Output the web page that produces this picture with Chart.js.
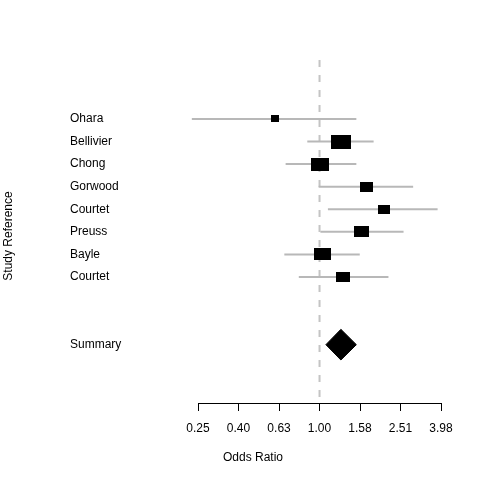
<!DOCTYPE html>
<html>
<head>
<meta charset="utf-8">
<script src="https://cdn.jsdelivr.net/npm/chart.js@4.4.1/dist/chart.umd.min.js"></script>
<style>
  html, body { margin: 0; padding: 0; background: #fff; }
  canvas { display: block; }
</style>
</head>
<body>
<canvas id="forestChart" width="480" height="480"></canvas>
<script>
// Study data: odds ratios with 95% confidence intervals
const studies = ['Ohara', 'Bellivier', 'Chong', 'Gorwood', 'Courtet', 'Preuss', 'Bayle', 'Courtet'];
const oddsRatio = [0.60, 1.27, 1.01, 1.70, 2.07, 1.62, 1.03, 1.31];
const ciLower = [0.234, 0.87, 0.68, 0.99, 1.10, 1.01, 0.67, 0.79];
const ciUpper = [1.52, 1.85, 1.52, 2.90, 3.83, 2.60, 1.58, 2.19];
// relative study weights (box size)
const weights = [0.40, 1.00, 0.90, 0.65, 0.60, 0.75, 0.85, 0.70];

// Summary estimate
const summaryLabel = 'Summary';
const summaryOR = 1.275;
const summaryLower = 1.075;
const summaryUpper = 1.52;

// x axis ticks
const tickValues = [0.251, 0.398, 0.631, 1, 1.585, 2.512, 3.981];
const tickLabels = ['0.25', '0.40', '0.63', '1.00', '1.58', '2.51', '3.98'];

const summaryRow = studies.length + 2;
const rowPositions = studies.map((s, i) => i).concat([summaryRow]);
const rowLabels = studies.concat([summaryLabel]);

Chart.defaults.font.family = '"Liberation Sans", Arial, Helvetica, sans-serif';
Chart.defaults.font.size = 12;
Chart.defaults.color = '#000';

// Black rectangle used as the study marker
function boxImage(w) {
  const c = document.createElement('canvas');
  c.width = Math.round(20 * w);
  c.height = Math.round(12.4 * w + 1.8);
  const g = c.getContext('2d');
  g.fillStyle = '#000';
  g.fillRect(0, 0, c.width, c.height);
  return c;
}

const yMin = -2.215;
const yMax = 12.585;
const diamondHalf = 0.68;

const datasets = [];

// study boxes
datasets.push({
  data: studies.map((s, i) => ({ x: oddsRatio[i], y: i })),
  pointStyle: ctx => boxImage(weights[ctx.dataIndex]),
  pointRadius: 10,
  clip: false
});

// confidence interval lines
studies.forEach((s, i) => {
  datasets.push({
    data: [{ x: ciLower[i], y: i }, { x: ciUpper[i], y: i }],
    showLine: true,
    borderColor: '#b8b8b8',
    borderWidth: 2,
    pointRadius: 0,
    clip: false
  });
});

// summary diamond
datasets.push({
  data: [
    { x: summaryLower, y: summaryRow },
    { x: summaryOR, y: summaryRow - diamondHalf },
    { x: summaryUpper, y: summaryRow },
    { x: summaryOR, y: summaryRow + diamondHalf },
    { x: summaryLower, y: summaryRow }
  ],
  showLine: true,
  borderColor: '#000',
  borderWidth: 1,
  backgroundColor: '#000',
  fill: 'shape',
  pointRadius: 0,
  tension: 0
});

// null effect line at OR = 1
datasets.push({
  data: [{ x: 1, y: yMin - 0.4 }, { x: 1, y: yMax }],
  showLine: true,
  borderColor: '#c4c4c4',
  borderWidth: 2,
  borderDash: [7, 8],
  pointRadius: 0,
  clip: false
});

const xLabelPlugin = {
  id: 'xLabel',
  afterDraw(chart) {
    const ctx = chart.ctx;
    ctx.save();
    ctx.font = '12px "Liberation Sans", Arial, Helvetica, sans-serif';
    ctx.fillStyle = '#000';
    ctx.textAlign = 'center';
    ctx.textBaseline = 'middle';
    ctx.fillText('Odds Ratio', chart.scales.x.left + 55, 458);
    ctx.restore();
  }
};

new Chart(document.getElementById('forestChart'), {
  type: 'scatter',
  data: { datasets: datasets },
  options: {
    responsive: false,
    animation: false,
    events: [],
    layout: { padding: { top: 69, right: 39, left: 0, bottom: 0 } },
    plugins: {
      legend: { display: false },
      tooltip: { enabled: false }
    },
    scales: {
      x: {
        type: 'logarithmic',
        min: tickValues[0],
        max: tickValues[tickValues.length - 1],
        afterBuildTicks: scale => { scale.ticks = tickValues.map(v => ({ value: v })); },
        afterFit: scale => { scale.height = 77; },
        ticks: {
          autoSkip: false,
          maxRotation: 0,
          padding: 10,
          callback: (v, i) => tickLabels[i]
        },
        grid: { drawOnChartArea: false, drawTicks: true, tickLength: 8, tickColor: '#000' },
        border: { color: '#000', width: 1 }
      },
      y: {
        type: 'linear',
        position: 'left',
        reverse: true,
        min: yMin,
        max: yMax,
        weight: 0,
        afterBuildTicks: scale => { scale.ticks = rowPositions.map(v => ({ value: v })); },
        afterFit: scale => { scale.width = 128; },
        ticks: {
          autoSkip: false,
          crossAlign: 'far',
          callback: (v, i) => rowLabels[i]
        },
        grid: { display: false },
        border: { display: false }
      },
      yTitle: {
        type: 'linear',
        position: 'left',
        weight: 1,
        afterFit: scale => { scale.width = 70; },
        ticks: { display: false },
        grid: { display: false },
        border: { display: false },
        title: { display: true, text: 'Study Reference', padding: { top: 1, bottom: 0 } }
      }
    }
  },
  plugins: [xLabelPlugin]
});
</script>
</body>
</html>
